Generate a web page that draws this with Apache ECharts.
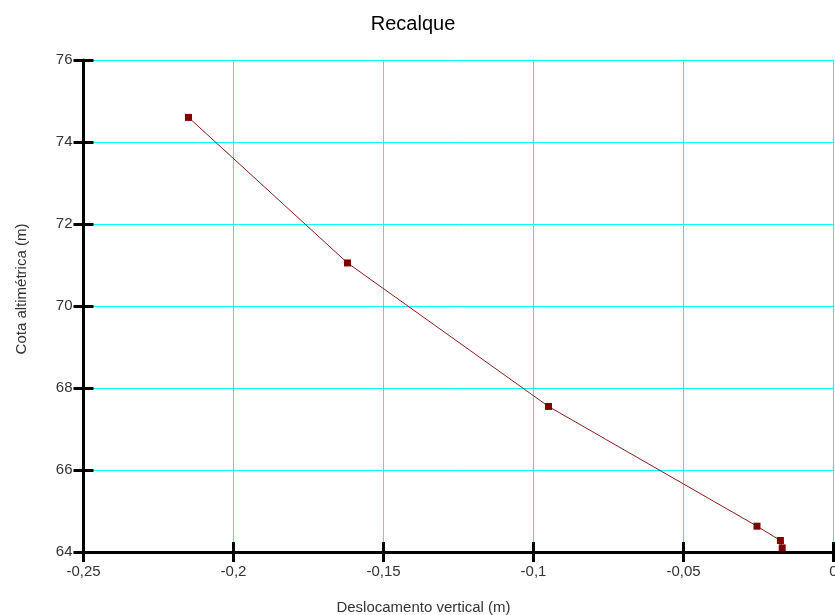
<!DOCTYPE html>
<html><head><meta charset="utf-8">
<script src="https://cdn.jsdelivr.net/npm/echarts@6/dist/echarts.min.js"></script>
<style>html,body{margin:0;padding:0;background:#fff}#c{width:835px;height:615px}</style>
</head><body><div id="c"></div>
<script>
const titleText = "Recalque";
const xName = "Deslocamento vertical (m)";
const yName = "Cota altimétrica (m)";
const deslocamento = [-0.215, -0.162, -0.095, -0.0255, -0.0177, -0.0171];
const cota = [74.6, 71.05, 67.55, 64.63, 64.28, 64.1];

const fmt = v => (Math.round(v * 100) / 100).toString().replace('.', ',');
const chart = echarts.init(document.getElementById('c'));
const font = 'Liberation Sans, Arial, sans-serif';
const tick = () => ({show: true, inside: false, length: 10, lineStyle: {color: '#000', width: 3}});
const off = () => ({show: false});
const offLine = () => ({show: false, onZero: false});
const X = () => ({type: 'value', min: -0.25, max: 0, interval: 0.05});
const Y = () => ({type: 'value', min: 64, max: 76, interval: 2});
const G = (l, b) => ({left: l, right: 1.5, top: 60, bottom: b, containLabel: false, outerBoundsMode: 'none'});
chart.setOption({
  animation: false,
  title: {text: titleText, left: 408, top: 9, textAlign: 'center',
    textStyle: {fontFamily: font, fontSize: 20, fontWeight: 'normal', color: '#000'}},
  grid: [G(83.5, 63), G(93.5, 63), G(83.5, 73)],
  xAxis: [
    Object.assign(X(), {gridIndex: 0, position: 'bottom',
      name: xName, nameLocation: 'middle', nameGap: 48,
      nameTextStyle: {fontFamily: font, fontSize: 15, color: '#333', padding: [0, 70, 0, 0]},
      axisLine: {onZero: false, lineStyle: {color: '#000', width: 3}},
      axisTick: tick(),
      axisLabel: {formatter: fmt, margin: 12, fontFamily: font, fontSize: 15, color: '#333'},
      splitLine: {show: true, lineStyle: {color: '#00FFFF', width: 1}}}),
    Object.assign(X(), {gridIndex: 1, position: 'bottom', axisLine: offLine(), axisTick: off(), axisLabel: off(), splitLine: off()}),
    Object.assign(X(), {gridIndex: 2, position: 'bottom', axisLine: offLine(), axisTick: tick(), axisLabel: off(), splitLine: off()})
  ],
  yAxis: [
    Object.assign(Y(), {gridIndex: 0, position: 'left',
      name: yName, nameLocation: 'middle', nameGap: 54,
      nameTextStyle: {fontFamily: font, fontSize: 15, color: '#333', padding: [0, 0, 0, 34]},
      axisLine: {onZero: false, lineStyle: {color: '#000', width: 3}},
      axisTick: tick(),
      axisLabel: {margin: 11, fontFamily: font, fontSize: 15, color: '#333'},
      splitLine: {show: true, lineStyle: {color: '#00FFFF', width: 1}}}),
    Object.assign(Y(), {gridIndex: 1, position: 'left', axisLine: offLine(), axisTick: tick(), axisLabel: off(), splitLine: off()}),
    Object.assign(Y(), {gridIndex: 2, position: 'left', axisLine: offLine(), axisTick: off(), axisLabel: off(), splitLine: off()})
  ],
  series: [{
    type: 'line', xAxisIndex: 0, yAxisIndex: 0,
    data: deslocamento.map((d, i) => [d, cota[i]]),
    symbol: 'rect', symbolSize: 7, showSymbol: true,
    lineStyle: {color: '#8B1A1A', width: 1},
    itemStyle: {color: '#800000'}, z: 5
  }]
});
</script></body></html>
